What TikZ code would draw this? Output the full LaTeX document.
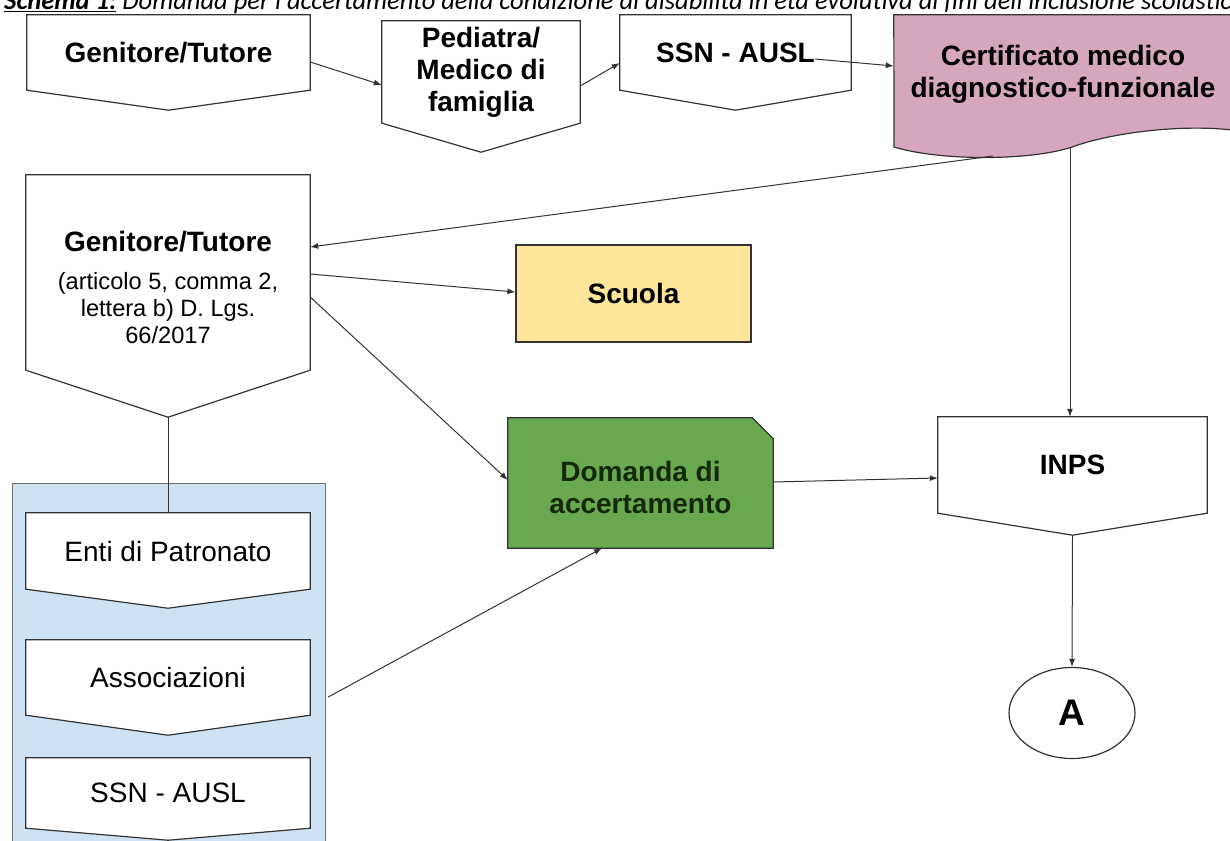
\documentclass[tikz,border=0pt]{standalone}
\usepackage{fontspec}
\setmainfont{Liberation Sans}
\newfontfamily\capfont{Carlito}
\usetikzlibrary{arrows.meta,shapes.geometric,backgrounds}

\definecolor{linegray}{RGB}{51,51,51}
\definecolor{certpink}{RGB}{213,166,189}
\definecolor{schoolyellow}{RGB}{255,229,153}
\definecolor{domgreen}{RGB}{106,168,79}
\definecolor{panelblue}{RGB}{207,226,243}

\newcommand\boxfont{\fontsize{28}{32}\selectfont}
\newcommand\notefont{\fontsize{23.6}{26.7}\selectfont}

\tikzset{
  boxline/.style={draw=linegray, line width=1.2pt},
  stepnode/.style={rectangle, inner sep=0pt, align=center, font=\boxfont\bfseries},
  plainnode/.style={stepnode, font=\boxfont},
  conn/.style={draw=linegray, line width=1pt, -{Latex[length=8pt,width=6pt]}},
  link/.style={draw=linegray, line width=1pt},
}

\begin{document}
\begin{tikzpicture}[x=1pt, y=-1pt]
    \useasboundingbox (0,0) rectangle (1230,840);
    % caption, cut by the page edge
    \node[anchor=base west, inner sep=0pt, font=\capfont\fontsize{26.5}{30}\selectfont\itshape] (caption) at (4,10)
        {\underline{\bfseries Schema 1:} Domanda per l'accertamento della condizione di disabilità in età evolutiva ai fini dell'inclusione scolastica};

    % top row
    \node[stepnode, minimum width=283pt, minimum height=75pt] (gen1) at (168.5,52.5) {Genitore/Tutore};
    \node[stepnode, minimum width=198pt, minimum height=102pt] (ped) at (481,72) {Pediatra/\\Medico di\\famiglia};
    \node[stepnode, minimum width=231pt, minimum height=75pt] (ssn1) at (735.5,52.5) {SSN - AUSL};
    \node[stepnode, minimum width=338pt, minimum height=118pt] (cert) at (1063,74) {Certificato medico\\diagnostico-funzionale};

    % left column
    \node[stepnode, font=\notefont, minimum width=284pt, minimum height=195pt] (gen2) at (168,272.5)
        {{\rule{0pt}{50pt}\boxfont\bfseries Genitore/Tutore}\\[11.3pt](articolo 5, comma 2,\\lettera b) D. Lgs.\\66/2017};
    \node[plainnode, minimum width=284pt, minimum height=76pt] (enti) at (168,551) {Enti di Patronato};
    \node[plainnode, minimum width=284pt, minimum height=75pt] (assoc) at (168,677.5) {Associazioni};
    \node[plainnode, minimum width=284pt, minimum height=70pt] (ssn2) at (168,793) {SSN - AUSL};

    % middle and right
    \node[stepnode, boxline, fill=schoolyellow, minimum width=235pt, minimum height=97pt] (scuola) at (633.5,293.5) {Scuola};
    \node[stepnode, text={rgb,255:red,20;green,40;blue,10}, minimum width=265pt, minimum height=130pt] (dom) at (640.5,483)
        {\rule{0pt}{29pt}Domanda di\\accertamento};
    \node[stepnode, minimum width=269pt, minimum height=96pt] (inps) at (1072.5,465) {INPS};
    \node[ellipse, boxline, inner sep=0pt, minimum width=126pt, minimum height=91pt,
          font=\fontsize{37}{40}\selectfont\bfseries] (a) at (1072,713) {A};

    \begin{scope}[on background layer]
        \fill[white] (0,0) rectangle (1230,840);
        \filldraw[fill=panelblue, draw=linegray!70, line width=1pt] (12,483) rectangle (325,870);
        \foreach \n/\d in {gen1/20, ped/29, ssn1/20, gen2/47, enti/19, assoc/20, ssn2/12, inps/22}
            \draw[boxline, fill=white] (\n.north west) -- (\n.north east) -- (\n.south east)
                -- ([yshift=-\d pt]\n.south) -- (\n.south west) -- cycle;
        \draw[boxline, fill=certpink] (cert.north west) -- (cert.north east) -- (1232,130)
            .. controls (1180,124) and (1110,133) .. (1072,147)
            .. controls (1030,161) and (940,161) .. (894,147) -- cycle;
        \draw[boxline, fill=domgreen] (dom.north west) -- ([xshift=-21pt]dom.north east)
            -- ([yshift=-21pt]dom.north east) -- (dom.south east) -- (dom.south west) -- cycle;
    \end{scope}

    % connectors
    \draw[conn] ([yshift=-9.5pt]gen1.east) -- ([yshift=-13pt]ped.west);
    \draw[conn] ([yshift=-14pt]ped.east) -- ([yshift=-10.5pt]ssn1.west);
    \draw[conn] ([shift={(79.5,6.5)}]ssn1.center) -- ([yshift=8pt]cert.west);
    \draw[conn] ([shift={(-70,82)}]cert.center) -- ([yshift=25.5pt]gen2.east);
    \draw[conn] ([yshift=-1.5pt]gen2.east) -- ([yshift=1.5pt]scuola.west);
    \draw[conn] ([yshift=-24.5pt]gen2.east) -- ([yshift=3pt]dom.west);
    \draw[link] ([yshift=-47pt]gen2.south) -- (enti.north);
    \draw[conn] ([shift={(18,19.5)}]assoc.east) -- ([xshift=-38.5pt]dom.south);
    \draw[conn] ([yshift=1pt]dom.east) -- ([yshift=-13pt]inps.west);
    \draw[conn] ([shift={(7,14)}]cert.south) -- ([xshift=-2.5pt]inps.north);
    \draw[conn] ([yshift=-22pt]inps.south) -- (a.north);
\end{tikzpicture}
\end{document}
